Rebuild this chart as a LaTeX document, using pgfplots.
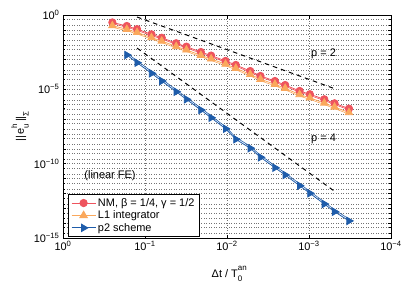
\documentclass[border=0pt]{standalone}
\usepackage{fontspec}
\setmainfont{Liberation Sans}
\usepackage{pgfplots}
\usepackage{pgfplotstable}
\pgfplotsset{compat=1.18}

\definecolor{nmred}{RGB}{238,84,94}
\definecolor{lorange}{RGB}{250,168,92}
\definecolor{pblue}{RGB}{30,92,170}
\newcommand{\sm}[1]{{\fontsize{8}{9}\selectfont #1}}
\newcommand{\supsub}[2]{\rlap{\raisebox{0.62em}{\sm{#1}}}\raisebox{-0.42em}{\sm{#2}}}

% dt  NM  NM(second)  L1  L1(second)
\pgfplotstableread{
dt nm nmb lo lob
0.25      3.16e-1 2.62e-1 1.91e-1 1.51e-1
0.166667  1.82e-1 1.51e-1 1.10e-1 8.69e-2
0.125     1.12e-1 9.30e-2 6.76e-2 5.34e-2
0.083333  5.01e-2 4.16e-2 3.02e-2 2.39e-2
0.0625    2.95e-2 2.45e-2 1.78e-2 1.41e-2
0.041667  1.26e-2 1.05e-2 7.59e-3 6.00e-3
0.03125   7.41e-3 6.15e-3 4.47e-3 3.53e-3
0.020833  3.24e-3 2.69e-3 1.95e-3 1.54e-3
0.015625  1.86e-3 1.54e-3 1.12e-3 8.85e-4
0.010417  8.13e-4 6.75e-4 4.90e-4 3.87e-4
0.0078125 4.37e-4 3.63e-4 2.63e-4 2.08e-4
0.0052083 1.70e-4 1.41e-4 1.02e-4 8.06e-5
0.0039063 7.94e-5 6.59e-5 4.79e-5 3.78e-5
0.0026042 3.63e-5 3.01e-5 2.19e-5 1.73e-5
0.0019531 1.95e-5 1.62e-5 1.17e-5 9.24e-6
0.0013021 7.76e-6 6.44e-6 4.47e-6 3.53e-6
0.0009766 4.68e-6 3.88e-6 2.69e-6 2.13e-6
0.0006510 2.14e-6 1.78e-6 1.20e-6 9.48e-7
0.0004883 1.15e-6 9.55e-7 6.46e-7 5.10e-7
0.0003255 5.01e-7 4.16e-7 2.75e-7 2.17e-7
}\tabA

\pgfplotstableread{
dt p2 p2b
0.166667  2.04e-3 2.75e-3
0.125     6.17e-4 8.33e-4
0.083333  1.20e-4 1.62e-4
0.0625    3.63e-5 4.90e-5
0.041667  6.92e-6 9.34e-6
0.03125   2.14e-6 2.89e-6
0.020833  4.07e-7 5.49e-7
0.015625  1.23e-7 1.66e-7
0.010417  2.24e-8 3.02e-8
0.0078125 4.37e-9 5.90e-9
0.0052083 1.10e-9 1.49e-9
0.0039063 2.69e-10 3.63e-10
0.0026042 5.37e-11 7.25e-11
0.0019531 1.74e-11 2.35e-11
0.0013021 3.31e-12 4.47e-12
0.0009766 1.02e-12 1.38e-12
0.0006510 1.95e-13 2.63e-13
0.0004883 5.89e-14 7.95e-14
0.0003255 1.41e-14 1.90e-14
}\tabB

\begin{document}
\begin{tikzpicture}[font=\fontsize{11}{13}\selectfont]
\begin{axis}[
  scale only axis, width=328bp, height=223bp,
  xmode=log, ymode=log, x dir=reverse,
  xmin=1e-4, xmax=1, ymin=1e-15, ymax=1,
  xtick={1,0.1,0.01,0.001,0.0001},
  xticklabels={10\textsuperscript{0},10\textsuperscript{−1},10\textsuperscript{−2},10\textsuperscript{−3},10\textsuperscript{−4}},
  ytick={1e-15,1e-14,1e-13,1e-12,1e-11,1e-10,1e-9,1e-8,1e-7,1e-6,1e-5,1e-4,1e-3,1e-2,1e-1,1},
  yticklabels={10\textsuperscript{−15},{},{},{},{},10\textsuperscript{−10},{},{},{},{},10\textsuperscript{−5},{},{},{},{},10\textsuperscript{0}},
  minor ytick={2e-15,5e-15,2e-14,5e-14,2e-13,5e-13,2e-12,5e-12,2e-11,5e-11,2e-10,5e-10,2e-9,5e-9,2e-8,5e-8,2e-7,5e-7,2e-6,5e-6,2e-5,5e-5,2e-4,5e-4,2e-3,5e-3,2e-2,5e-2,2e-1,5e-1},
  tick align=inside,
  major tick length=3.5bp, minor tick length=2bp,
  every tick/.style={black, line width=0.4pt},
  grid=both,
  major grid style={black!55, line width=0.35pt, dash pattern=on 0.5pt off 2pt},
  minor grid style={black!55, line width=0.35pt, dash pattern=on 0.5pt off 2pt},
  axis line style={black, line width=0.6pt},
  xlabel={Δt / T\supsub{an}{0}},
  ylabel={||\,e\supsub{h}{u}\,||\raisebox{-0.42em}{\sm{Σ}}},
  xlabel style={at={(axis description cs:0.5,0)}, anchor=center, yshift=-36bp},
  ylabel style={at={(axis description cs:-0.131,0.5)}, anchor=center},
  legend style={at={(axis description cs:0.015,0.005)}, anchor=south west,
    draw=black, line width=0.6pt, fill=white, inner xsep=3pt, inner ysep=2pt,
    row sep=-1pt, font=\fontsize{11}{13}\selectfont},
  legend cell align=left,
  legend image code/.code={\draw[mark repeat=2,mark phase=2] plot coordinates {(0bp,0bp)(12bp,0bp)(24bp,0bp)};},
]
% main series
\addplot[nmred, line width=0.8pt, mark=*, mark size=3.7pt, mark options={fill=nmred}] table[x=dt,y=nm] {\tabA};
\addlegendentry{NM, β = 1/4, γ = 1/2}
\addplot[lorange, line width=0.8pt, mark=triangle*, mark size=4.3pt, mark options={fill=lorange}] table[x=dt,y=lo] {\tabA};
\addlegendentry{L1 integrator}
\addplot[pblue, line width=0.8pt, mark=triangle*, mark size=4.3pt, mark options={fill=pblue, rotate=-90}] table[x=dt,y=p2] {\tabB};
\addlegendentry{p2 scheme}
% second curves
\addplot[nmred, line width=0.6pt, forget plot] table[x=dt,y=nmb] {\tabA};
\addplot[lorange, line width=0.6pt, forget plot] table[x=dt,y=lob] {\tabA};
\addplot[pblue, line width=0.6pt, forget plot] table[x=dt,y=p2b] {\tabB};
% reference slopes
\addplot[black, line width=1pt, dash pattern=on 4.5bp off 4bp, forget plot] coordinates {(0.125,0.731) (4.883e-4,1.114e-5)};
\addplot[black, line width=1pt, dash pattern=on 4.5bp off 4bp, forget plot] coordinates {(0.125,5.97e-3) (4.883e-4,1.39e-12)};
\node at (axis cs:6.65e-4,2.4e-3) {p = 2};
\node at (axis cs:6.65e-4,4.57e-9) {p = 4};
\node at (axis cs:0.267,1.48e-11) {(linear FE)};
\end{axis}
\pgfresetboundingbox
\path (-63bp,-51bp) rectangle (344bp,238bp);
\end{tikzpicture}
\end{document}
